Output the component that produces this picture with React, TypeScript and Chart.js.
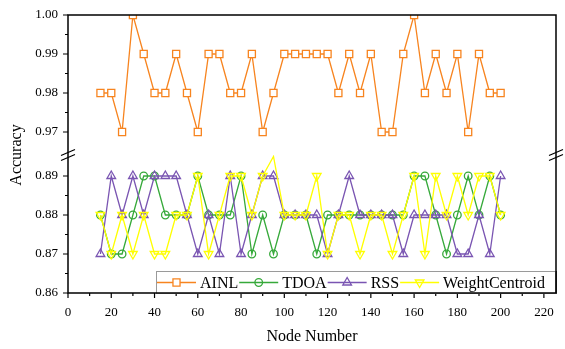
import React, { useEffect, useRef } from 'react';
import { Chart, registerables } from 'chart.js';
import { drawPoint } from 'chart.js/helpers';

Chart.register(...registerables);

const nodeNumbers = [15, 20, 25, 30, 35, 40, 45, 50, 55, 60, 65, 70, 75, 80, 85, 90, 95, 100, 105, 110, 115, 120, 125, 130, 135, 140, 145, 150, 155, 160, 165, 170, 175, 180, 185, 190, 195, 200];

const ainl = [0.98, 0.98, 0.97, 1.0, 0.99, 0.98, 0.98, 0.99, 0.98, 0.97, 0.99, 0.99, 0.98, 0.98, 0.99, 0.97, 0.98, 0.99, 0.99, 0.99, 0.99, 0.99, 0.98, 0.99, 0.98, 0.99, 0.97, 0.97, 0.99, 1.0, 0.98, 0.99, 0.98, 0.99, 0.97, 0.99, 0.98, 0.98];
const tdoa = [0.88, 0.87, 0.87, 0.88, 0.89, 0.89, 0.88, 0.88, 0.88, 0.89, 0.88, 0.88, 0.88, 0.89, 0.87, 0.88, 0.87, 0.88, 0.88, 0.88, 0.87, 0.88, 0.88, 0.88, 0.88, 0.88, 0.88, 0.88, 0.88, 0.89, 0.89, 0.88, 0.87, 0.88, 0.89, 0.88, 0.89, 0.88];
const rss = [0.87, 0.89, 0.88, 0.89, 0.88, 0.89, 0.89, 0.89, 0.88, 0.87, 0.88, 0.87, 0.89, 0.87, 0.88, 0.89, 0.89, 0.88, 0.88, 0.88, 0.88, 0.87, 0.88, 0.89, 0.88, 0.88, 0.88, 0.88, 0.87, 0.88, 0.88, 0.88, 0.88, 0.87, 0.87, 0.88, 0.87, 0.89];
const weightCentroid = [0.88, 0.87, 0.88, 0.87, 0.88, 0.87, 0.87, 0.88, 0.88, 0.89, 0.87, 0.88, 0.89, 0.89, 0.88, 0.89, 0.895, 0.88, 0.88, 0.88, 0.89, 0.87, 0.88, 0.88, 0.87, 0.88, 0.88, 0.87, 0.88, 0.89, 0.87, 0.89, 0.88, 0.89, 0.88, 0.89, 0.89, 0.88];

const xTicks = [0, 20, 40, 60, 80, 100, 120, 140, 160, 180, 200, 220];
const yTopTicks = [0.97, 0.98, 0.99, 1.0];
const yBottomTicks = [0.86, 0.87, 0.88, 0.89];

const FONT = "'Liberation Serif', 'Times New Roman', serif";
const COLORS = { ainl: '#F7841F', tdoa: '#36A93A', rss: '#7A55B2', wc: '#FFFF00' };

const toPoints = (ys: number[]) => nodeNumbers.map((x, i) => ({ x, y: ys[i] }));

const decorPlugin = {
  id: 'decor',
  afterDraw(chart: any) {
    const { ctx, chartArea: ca, scales } = chart;
    const xs = scales.x;
    const yT = scales.yTop;
    const yB = scales.yBottom;
    ctx.save();
    ctx.strokeStyle = '#000';
    ctx.lineWidth = 1.5;
    ctx.beginPath();
    ctx.moveTo(ca.left, ca.top);
    ctx.lineTo(ca.right, ca.top);
    ctx.lineTo(ca.right, ca.bottom);
    ctx.lineTo(ca.left, ca.bottom);
    ctx.closePath();
    ctx.stroke();

    ctx.lineWidth = 1.2;
    ctx.beginPath();
    xTicks.forEach((v, i) => {
      const px = xs.getPixelForValue(v);
      ctx.moveTo(px, ca.bottom);
      ctx.lineTo(px, ca.bottom + 5);
      if (i < xTicks.length - 1) {
        const mx = xs.getPixelForValue((v + xTicks[i + 1]) / 2);
        ctx.moveTo(mx, ca.bottom);
        ctx.lineTo(mx, ca.bottom + 3);
      }
    });
    const yTicks = (scale: any, ticks: number[]) => {
      ticks.forEach((v, i) => {
        const py = scale.getPixelForValue(v);
        ctx.moveTo(ca.left, py);
        ctx.lineTo(ca.left - 5, py);
        if (i < ticks.length - 1) {
          const my = scale.getPixelForValue((v + ticks[i + 1]) / 2);
          ctx.moveTo(ca.left, my);
          ctx.lineTo(ca.left - 3, my);
        }
      });
    };
    yTicks(yT, yTopTicks);
    yTicks(yB, yBottomTicks);
    ctx.stroke();

    const yb = yT.bottom;
    ctx.lineWidth = 1.2;
    ctx.beginPath();
    [ca.left, ca.right].forEach((bx) => {
      [-2.5, 2.5].forEach((d) => {
        ctx.moveTo(bx - 7, yb + d + 3);
        ctx.lineTo(bx + 7, yb + d - 3);
      });
    });
    ctx.stroke();

    ctx.fillStyle = '#000';
    ctx.font = `16px ${FONT}`;
    ctx.textAlign = 'center';
    ctx.textBaseline = 'middle';
    ctx.save();
    ctx.translate(17, yb);
    ctx.rotate(-Math.PI / 2);
    ctx.fillText('Accuracy', 0, 0);
    ctx.restore();

    const box = { left: 156, top: 271, right: ca.right, bottom: ca.bottom };
    ctx.fillStyle = '#fff';
    ctx.fillRect(box.left, box.top, box.right - box.left, box.bottom - box.top);
    ctx.strokeStyle = '#9a9a9a';
    ctx.lineWidth = 1;
    ctx.strokeRect(box.left + 0.5, box.top + 0.5, box.right - box.left - 1, box.bottom - box.top);
    ctx.strokeStyle = '#000';
    ctx.lineWidth = 1.5;
    ctx.beginPath();
    ctx.moveTo(box.left, ca.bottom);
    ctx.lineTo(box.right, ca.bottom);
    ctx.lineTo(box.right, box.top);
    ctx.stroke();

    const cy = (box.top + box.bottom) / 2 + 0.5;
    let lx = box.left + 1;
    ctx.font = `16px ${FONT}`;
    ctx.textAlign = 'left';
    ctx.textBaseline = 'middle';
    chart.data.datasets.forEach((ds: any) => {
      ctx.strokeStyle = ds.borderColor;
      ctx.lineWidth = ds.borderWidth;
      ctx.beginPath();
      ctx.moveTo(lx, cy);
      ctx.lineTo(lx + 39, cy);
      ctx.stroke();
      ctx.fillStyle = ds.backgroundColor;
      drawPoint(ctx, {
        pointStyle: ds.pointStyle,
        rotation: ds.pointRotation || 0,
        radius: ds.legendRadius,
        borderWidth: ds.pointBorderWidth,
      } as any, lx + 19.5, cy);
      ctx.fillStyle = '#000';
      ctx.fillText(ds.label, lx + 43, cy + 1);
      lx = lx + 43 + ctx.measureText(ds.label).width + 1;
    });
    ctx.restore();
  },
};

export default function App() {
  const ref = useRef<HTMLCanvasElement | null>(null);
  useEffect(() => {
    if (!ref.current) return;
    const common = { borderWidth: 1.3, pointBorderWidth: 1.3, tension: 0 };
    const chart = new Chart(ref.current, {
      type: 'line',
      data: {
        datasets: [
          {
            ...common, label: 'AINL', data: toPoints(ainl), yAxisID: 'yTop',
            borderColor: COLORS.ainl, backgroundColor: '#ffffff', pointBackgroundColor: '#ffffff',
            pointStyle: 'rect', pointRadius: 5, legendRadius: 5, order: 3,
          } as any,
          {
            ...common, label: 'TDOA', data: toPoints(tdoa), yAxisID: 'yBottom',
            borderColor: COLORS.tdoa, backgroundColor: 'rgba(0,0,0,0)', pointBackgroundColor: 'rgba(0,0,0,0)',
            pointStyle: 'circle', pointRadius: 3.8, legendRadius: 3.8, order: 2,
          } as any,
          {
            ...common, label: 'RSS', data: toPoints(rss), yAxisID: 'yBottom',
            borderColor: COLORS.rss, backgroundColor: 'rgba(0,0,0,0)', pointBackgroundColor: 'rgba(0,0,0,0)',
            pointStyle: 'triangle', pointRadius: 5, legendRadius: 5, order: 1,
          } as any,
          {
            ...common, label: 'WeightCentroid', data: toPoints(weightCentroid), yAxisID: 'yBottom',
            borderColor: COLORS.wc, backgroundColor: 'rgba(0,0,0,0)', pointBackgroundColor: 'rgba(0,0,0,0)',
            pointStyle: 'triangle', pointRotation: 180, legendRadius: 5,
            pointRadius: (c: any) => (c.raw && c.raw.y > yBottomTicks[yBottomTicks.length - 1] ? 0 : 5),
            order: 0,
          } as any,
        ],
      },
      options: {
        responsive: false,
        animation: false,
        devicePixelRatio: 1,
        layout: { padding: { top: 15, right: 9, left: 0, bottom: 0 } },
        plugins: { legend: { display: false }, tooltip: { enabled: false } },
        scales: {
          x: {
            type: 'linear', min: 0, max: 225.6,
            afterBuildTicks: (s: any) => { s.ticks = xTicks.map((v) => ({ value: v })); },
            afterFit: (s: any) => { s.height = 56; },
            grid: { display: false, drawTicks: true, tickLength: 5 },
            border: { display: false },
            ticks: { color: '#000', font: { family: FONT, size: 13 }, padding: 7, maxRotation: 0, callback: (v: any) => String(v) },
            title: { display: true, text: 'Node Number', color: '#000', font: { family: FONT, size: 16 }, padding: { top: 0, bottom: 3 } },
          },
          yBottom: {
            type: 'linear', position: 'left', stack: 'acc', stackWeight: 138,
            min: 0.86, max: 0.89538,
            afterBuildTicks: (s: any) => { s.ticks = yBottomTicks.map((v) => ({ value: v })); },
            afterFit: (s: any) => { s.width = 68; },
            grid: { display: false, drawTicks: true, tickLength: 5 },
            border: { display: false },
            ticks: { color: '#000', font: { family: FONT, size: 13 }, padding: 5, callback: (v: any) => Number(v).toFixed(2) },
          },
          yTop: {
            type: 'linear', position: 'left', stack: 'acc', stackWeight: 140,
            min: 0.9641, max: 1.0,
            afterBuildTicks: (s: any) => { s.ticks = yTopTicks.map((v) => ({ value: v })); },
            afterFit: (s: any) => { s.width = 68; },
            grid: { display: false, drawTicks: true, tickLength: 5 },
            border: { display: false },
            ticks: { color: '#000', font: { family: FONT, size: 13 }, padding: 5, callback: (v: any) => Number(v).toFixed(2) },
          },
        },
      } as any,
      plugins: [decorPlugin],
    });
    return () => chart.destroy();
  }, []);
  return (
    <div style={{ position: 'absolute', left: 0, top: 0, width: 565, height: 349, background: '#fff' }}>
      <canvas ref={ref} width={565} height={349} />
    </div>
  );
}
